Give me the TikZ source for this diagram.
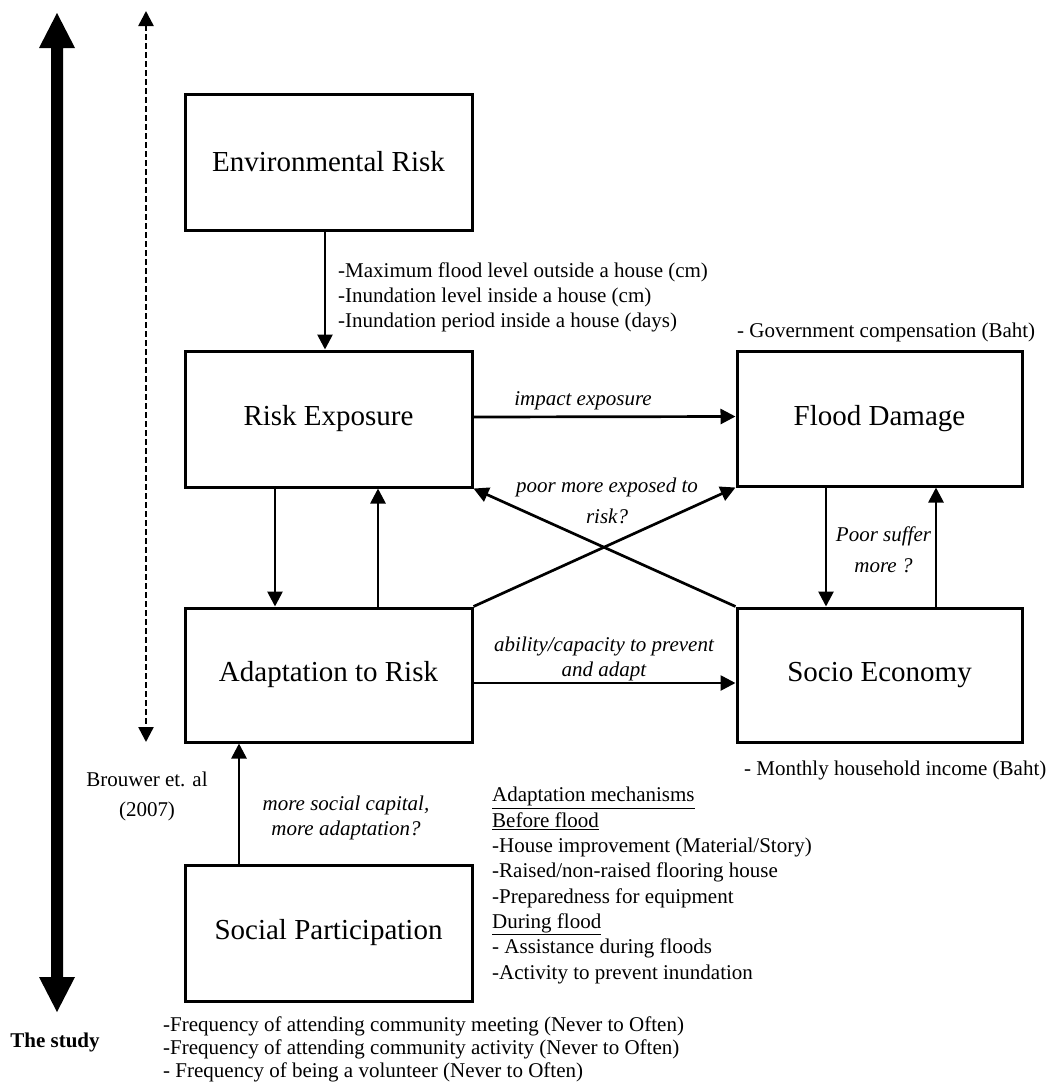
\documentclass[tikz,border=0pt]{standalone}
\usepackage{fontspec}
\setmainfont{Liberation Serif}
\usetikzlibrary{arrows.meta}
\begin{document}
\begin{tikzpicture}[x=1pt,y=-1pt,
  box/.style={draw, line width=3pt, minimum width=287pt, minimum height=136pt,
    inner sep=0pt, font=\fontsize{29}{34}\selectfont},
  conn/.style={line width=2.7pt, -{Triangle[length=15pt,width=15pt]}},
  lbl/.style={inner sep=0pt, font=\fontsize{21}{25}\selectfont},
  ilbl/.style={inner sep=0pt, font=\fontsize{21}{25}\selectfont\itshape},
]
\useasboundingbox (0,0) rectangle (1054,1085);

% timeline arrows on the left
\fill (57,13) -- (75,48) -- (63,48) -- (63,977) -- (75,977) -- (57,1012)
  -- (39,977) -- (51,977) -- (51,48) -- (39,48) -- cycle;
\coordinate (dtop) at (146,11);
\coordinate (dbot) at (146,742);
\draw[line width=2.5pt, dash pattern=on 6pt off 3pt,
  {Triangle[length=15pt,width=15pt]}-{Triangle[length=15pt,width=15pt]}] (dtop) -- (dbot);

% boxes
\node[box] (env) at (328.5,162) {Environmental Risk};
\node[box] (rexp) at (328.5,419) {Risk Exposure};
\node[box, minimum height=134pt] (adapt) at (328.5,675) {Adaptation to Risk};
\node[box] (social) at (328.5,933) {Social Participation};
\node[box, minimum width=285pt, minimum height=135pt] (flood) at (879.5,418.5) {Flood Damage};
\node[box, minimum width=285pt, minimum height=134pt] (socio) at (879.5,675) {Socio Economy};

% connectors
\draw[conn] ([xshift=-3.5pt]env.south) -- ([xshift=-3.5pt]rexp.north);
\draw[conn] ([yshift=2pt]rexp.east) -- ([yshift=2pt]flood.west);
\draw[conn] ([xshift=-53.5pt]rexp.south) -- ([xshift=-53.5pt]adapt.north);
\draw[conn] ([xshift=49.5pt]adapt.north) -- ([xshift=49.5pt]rexp.south);
\draw[conn] ([xshift=-53.5pt]flood.south) -- ([xshift=-53.5pt]socio.north);
\draw[conn] ([xshift=56.5pt]socio.north) -- ([xshift=56.5pt]flood.south);
\draw[conn] (adapt.north east) -- (flood.south west);
\draw[conn] (socio.north west) -- (rexp.south east);
\draw[conn] ([yshift=-8pt]adapt.east) -- ([yshift=-8pt]socio.west);
\draw[conn] ([xshift=-89.5pt]social.north) -- ([xshift=-89.5pt]adapt.south);

% labels (multi-line nodes are placed by the baseline of their last line)
\node[lbl, anchor=base west, align=left] (envind) at (338,327)
  {-Maximum flood level outside a house (cm)\\-Inundation level inside a house (cm)\\-Inundation period inside a house (days)};
\node[lbl, anchor=base west] (gov) at (737,337) {- Government compensation (Baht)};
\node[ilbl, anchor=base] (impact) at (583,405) {impact exposure};
\node[ilbl, anchor=base, align=center, font=\fontsize{21}{31}\selectfont\itshape] (poorexp) at (607,523)
  {poor more exposed to\\risk?};
\node[ilbl, anchor=base, align=center, font=\fontsize{21}{31}\selectfont\itshape] (poorsuf) at (883.5,572)
  {Poor suffer\\more ?};
\node[ilbl, anchor=base, align=center] (ability) at (604,676)
  {ability/capacity to prevent\\and adapt};
\node[lbl, anchor=base west] (income) at (744,775) {- Monthly household income (Baht)};
\node[lbl, anchor=base, align=center, font=\fontsize{21}{30}\selectfont] (brouwer) at (147,816)
  {Brouwer et. al\\(2007)};
\node[ilbl, anchor=base, align=center] (capital) at (346,835)
  {more social capital,\\more adaptation?};
\node[lbl, anchor=base west, align=left, font=\fontsize{21}{25.3}\selectfont] (mech) at (492,979)
  {\underline{Adaptation mechanisms}\\\underline{Before flood}\\-House improvement (Material/Story)\\-Raised/non-raised flooring house\\-Preparedness for equipment\\\underline{During flood}\\- Assistance during floods\\-Activity to prevent inundation};
\node[lbl, anchor=base, font=\fontsize{21}{25}\selectfont\bfseries] (study) at (55,1047) {The study};
\node[lbl, anchor=base west, align=left, font=\fontsize{21}{23}\selectfont] (partind) at (163,1077)
  {-Frequency of attending community meeting (Never to Often)\\-Frequency of attending community activity (Never to Often)\\- Frequency of being a volunteer (Never to Often)};
\end{tikzpicture}
\end{document}
